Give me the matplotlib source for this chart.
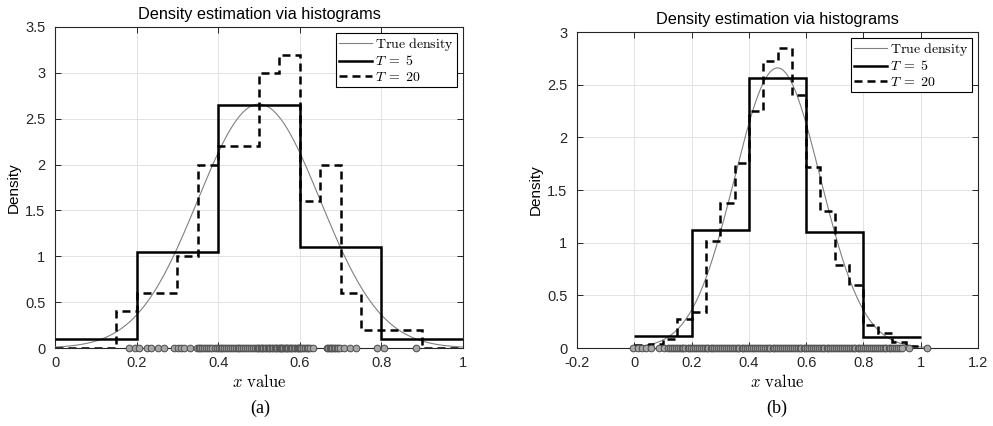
import numpy as np
import matplotlib
matplotlib.use("Agg")
import matplotlib.pyplot as plt

plt.rcParams["font.family"] = ["Liberation Sans", "DejaVu Sans"]
plt.rcParams["mathtext.fontset"] = "cm"

# ---- data -------------------------------------------------------------
# true density: normal with these parameters
true_mean = 0.5
true_sd = 0.15

# (a) histogram densities
a_T5 = [0.10, 1.05, 2.65, 1.10, 0.10]
a_T20 = [0.0, 0.0, 0.0, 0.4, 0.6, 0.6, 1.0, 2.0, 2.2, 2.2,
         3.0, 3.2, 1.6, 2.0, 0.6, 0.2, 0.2, 0.2, 0.0, 0.0]

# (b) histogram densities
b_T5 = [0.11, 1.12, 2.56, 1.10, 0.10]
b_T20 = [0.03, 0.04, 0.09, 0.28, 0.34, 1.02, 1.38, 1.76, 2.25, 2.72,
         2.85, 2.40, 1.72, 1.30, 0.79, 0.60, 0.22, 0.14, 0.06, 0.02]

# observed samples (drawn on the x axis)
a_samples = [0.182, 0.196,
             0.205, 0.226, 0.236,
             0.252, 0.268, 0.291,
             0.302, 0.309, 0.316, 0.331, 0.347,
             0.352, 0.356, 0.361, 0.366, 0.371, 0.375, 0.380, 0.385, 0.391, 0.397,
             0.402, 0.406, 0.410, 0.415, 0.419, 0.424, 0.429, 0.433, 0.438, 0.444, 0.448,
             0.452, 0.456, 0.461, 0.466, 0.471, 0.475, 0.480, 0.485, 0.489, 0.494, 0.498,
             0.501, 0.504, 0.507, 0.511, 0.514, 0.517, 0.521, 0.524, 0.528, 0.531,
             0.535, 0.538, 0.541, 0.545, 0.548,
             0.551, 0.554, 0.557, 0.560, 0.563, 0.566, 0.569, 0.572, 0.575, 0.578,
             0.582, 0.586, 0.589, 0.592, 0.595, 0.598,
             0.601, 0.604, 0.608, 0.612, 0.617, 0.621, 0.626, 0.632,
             0.667, 0.670, 0.674, 0.677, 0.680, 0.684, 0.687, 0.691, 0.694, 0.698,
             0.708, 0.722, 0.737,
             0.788, 0.806, 0.886]

b_samples = [-0.006, 0.012, 0.027, 0.041, 0.057, 0.087, 0.104,
             0.116, 0.123, 0.131, 0.137, 0.144, 0.152, 0.158, 0.165, 0.171, 0.178,
             0.186, 0.192, 0.199, 0.205, 0.213, 0.219, 0.226, 0.232, 0.240, 0.246,
             0.253, 0.259, 0.267, 0.273, 0.280, 0.286, 0.294, 0.300, 0.307, 0.313,
             0.321, 0.327, 0.334, 0.340, 0.348, 0.354, 0.361, 0.367, 0.375, 0.381,
             0.388, 0.394, 0.402, 0.408, 0.415, 0.421, 0.429, 0.435, 0.442, 0.448,
             0.456, 0.462, 0.469, 0.475, 0.483, 0.489, 0.496, 0.502, 0.510, 0.516,
             0.523, 0.529, 0.537, 0.543, 0.550, 0.556, 0.564, 0.570, 0.577, 0.583,
             0.591, 0.597, 0.604, 0.610, 0.618, 0.624, 0.631, 0.637, 0.645, 0.651,
             0.658, 0.664, 0.672, 0.678, 0.685, 0.691, 0.699, 0.705, 0.712, 0.718,
             0.726, 0.732, 0.739, 0.745, 0.753, 0.759, 0.766, 0.772, 0.780, 0.786,
             0.793, 0.799, 0.807, 0.813, 0.820, 0.826, 0.834, 0.840, 0.847, 0.853,
             0.861, 0.867, 0.874, 0.880, 0.888, 0.894, 0.901, 0.907, 0.915, 0.921,
             0.928, 0.934, 0.959, 1.021]

title = "Density estimation via histograms"
legend_labels = [r"$\mathrm{True\ density}$", r"$T\;=\;5$", r"$T\;=\;20$"]


def normal_pdf(x, mu, sd):
    return np.exp(-0.5 * ((x - mu) / sd) ** 2) / (sd * np.sqrt(2 * np.pi))


def draw_panel(ax, T5, T20, samples, xlim, ylim, xticks, yticks, curve_range):
    e5 = np.linspace(0, 1, len(T5) + 1)
    e20 = np.linspace(0, 1, len(T20) + 1)
    xs = np.linspace(curve_range[0], curve_range[1], 400)

    h_true, = ax.plot(xs, normal_pdf(xs, true_mean, true_sd),
                      color="#808080", lw=0.8, zorder=3)
    h5 = ax.stairs(T5, e5, baseline=None, color="black", lw=1.8, zorder=4)
    h20 = ax.stairs(T20, e20, baseline=None, color="black", lw=1.8,
                    linestyle=(0, (3.2, 2.0)), zorder=4)
    ax.plot(samples, np.zeros(len(samples)), "o", ms=4.8, mfc="#a8a8a8",
            mec="#4a4a4a", mew=0.7, zorder=5, clip_on=False, ls="none")

    ax.set_xlim(*xlim)
    ax.set_ylim(*ylim)
    ax.set_xticks(xticks)
    ax.set_yticks(yticks)
    ax.set_xticklabels([f"{t:g}" for t in xticks])
    ax.set_yticklabels([f"{t:g}" for t in yticks])
    ax.grid(True, color="#e3e3e3", lw=0.7)
    ax.set_axisbelow(True)
    ax.tick_params(direction="in", top=True, right=True, length=4,
                   width=0.7, color="#262626", labelsize=10.5,
                   labelcolor="#262626")
    ax.tick_params(axis="x", pad=6)
    ax.tick_params(axis="y", pad=7)
    for s in ax.spines.values():
        s.set_color("#262626")
        s.set_linewidth(0.8)

    ax.set_title(title, fontsize=11.7, pad=6, color="black")
    ax.set_ylabel("Density", fontsize=11, labelpad=3)
    ax.set_xlabel(r"$x\ \mathrm{value}$", fontsize=12, labelpad=2)

    leg = ax.legend([h_true, h5, h20],
                    legend_labels, loc="upper right", fontsize=10,
                    frameon=True, fancybox=False, framealpha=1,
                    edgecolor="black", handlelength=2.4, handletextpad=0.2,
                    borderpad=0.25, labelspacing=0.1, borderaxespad=0.4)
    leg.get_frame().set_linewidth(0.8)


fig = plt.figure(figsize=(9.93, 4.26), dpi=100)
ax_a = fig.add_axes([55 / 993, 78 / 426, 408 / 993, 321 / 426])
ax_b = fig.add_axes([577 / 993, 78 / 426, 401 / 993, 316 / 426])

draw_panel(ax_a, a_T5, a_T20, a_samples, (0, 1), (0, 3.5),
           [0, 0.2, 0.4, 0.6, 0.8, 1], [0, 0.5, 1, 1.5, 2, 2.5, 3, 3.5],
           (0, 1))
draw_panel(ax_b, b_T5, b_T20, b_samples, (-0.2, 1.2), (0, 3),
           [-0.2, 0, 0.2, 0.4, 0.6, 0.8, 1, 1.2], [0, 0.5, 1, 1.5, 2, 2.5, 3],
           (-0.006, 1.021))

fig.text(260 / 993, 1 - 408 / 426, "(a)", ha="center", va="center",
         fontsize=13, family="Liberation Serif")
fig.text(777 / 993, 1 - 408 / 426, "(b)", ha="center", va="center",
         fontsize=13, family="Liberation Serif")

fig.savefig("out.png", dpi=100)
